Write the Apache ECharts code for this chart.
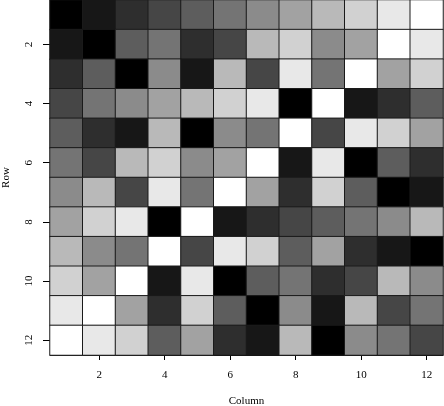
<!DOCTYPE html>
<html>
<head>
<meta charset="utf-8">
<script src="https://cdn.jsdelivr.net/npm/echarts@6/dist/echarts.min.js"></script>
<style>html,body{margin:0;padding:0;background:#fff}#c{width:444px;height:406px}</style>
</head>
<body>
<div id="c"></div>
<script>
const columns = ['1','2','3','4','5','6','7','8','9','10','11','12'];
const rows = ['1','2','3','4','5','6','7','8','9','10','11','12'];
// gray level per cell (0 = black, 11 = white), row by row
const row1  = [0,1,2,3,4,5,6,7,8,9,10,11];
const row2  = [1,0,4,5,2,3,8,9,6,7,11,10];
const row3  = [2,4,0,6,1,8,3,10,5,11,7,9];
const row4  = [3,5,6,7,8,9,10,0,11,1,2,4];
const row5  = [4,2,1,8,0,6,5,11,3,10,9,7];
const row6  = [5,3,8,9,6,7,11,1,10,0,4,2];
const row7  = [6,8,3,10,5,11,7,2,9,4,0,1];
const row8  = [7,9,10,0,11,1,2,3,4,5,6,8];
const row9  = [8,6,5,11,3,10,9,4,7,2,1,0];
const row10 = [9,7,11,1,10,0,4,5,2,3,8,6];
const row11 = [10,11,7,2,9,4,0,6,1,8,3,5];
const row12 = [11,10,9,4,7,2,1,8,0,6,5,3];
const matrix = [row1,row2,row3,row4,row5,row6,row7,row8,row9,row10,row11,row12];

const data = [];
matrix.forEach((r, i) => r.forEach((v, j) => data.push([j, i, v])));

const font = 'Liberation Serif';
const chart = echarts.init(document.getElementById('c'));
chart.setOption({
  animation: false,
  grid: { left: 50, right: 1, top: 0, bottom: 51, containLabel: false, outerBoundsMode: 'none' },
  xAxis: {
    type: 'category', data: columns, position: 'bottom',
    name: 'Column', nameLocation: 'middle', nameGap: 41,
    nameTextStyle: { fontFamily: font, fontSize: 11, color: '#000' },
    axisLine: { show: true, lineStyle: { color: '#000', width: 1 } },
    axisTick: { show: true, alignWithLabel: true, interval: i => i % 2 === 1, length: 5, lineStyle: { color: '#000' } },
    axisLabel: { interval: i => i % 2 === 1, margin: 15, fontFamily: font, fontSize: 11, color: '#000' },
    splitLine: { show: false }
  },
  yAxis: {
    type: 'category', data: rows, inverse: true,
    name: 'Row', nameLocation: 'middle', nameGap: 38,
    nameTextStyle: { fontFamily: font, fontSize: 11, color: '#000' },
    axisLine: { show: true, lineStyle: { color: '#000', width: 1 } },
    axisTick: { show: true, alignWithLabel: true, interval: i => i % 2 === 1, length: 7, lineStyle: { color: '#000' } },
    axisLabel: { interval: i => i % 2 === 1, rotate: 90, margin: 15, fontFamily: font, fontSize: 11, color: '#000' },
    splitLine: { show: false }
  },
  visualMap: { show: false, min: 0, max: 11, dimension: 2, inRange: { color: ['#000000', '#ffffff'] } },
  series: [{
    type: 'heatmap', data: data,
    itemStyle: { borderColor: '#1a1a1a', borderWidth: 1 },
    emphasis: { disabled: true }
  }]
});
</script>
</body>
</html>
